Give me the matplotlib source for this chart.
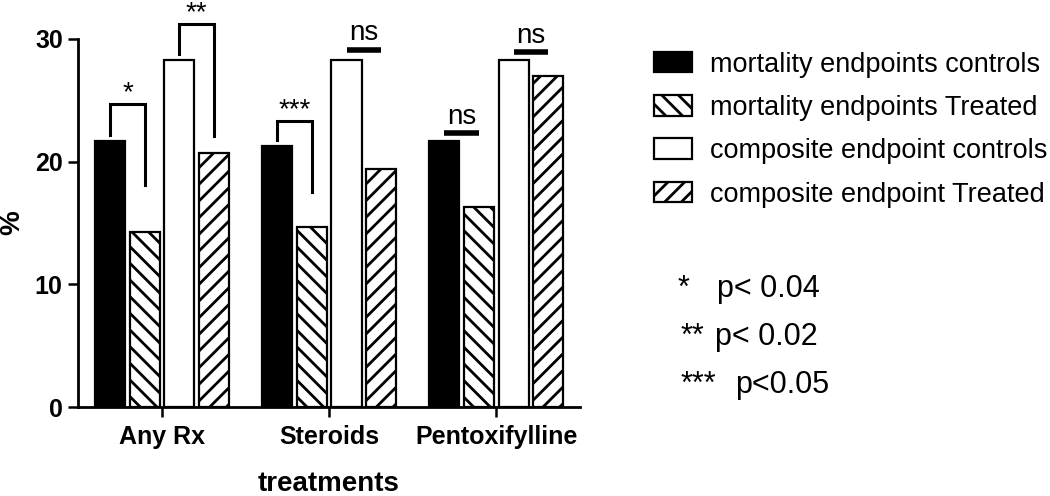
import numpy as np
import matplotlib.pyplot as plt

plt.rcParams['font.family'] = ['Liberation Sans', 'DejaVu Sans']
plt.rcParams['hatch.linewidth'] = 2.0

groups = ["Any Rx", "Steroids", "Pentoxifylline"]
mort_ctrl = [21.7, 21.3, 21.7]
mort_trt = [14.3, 14.7, 16.3]
comp_ctrl = [28.3, 28.3, 28.3]
comp_trt = [20.7, 19.4, 27.0]

series = [mort_ctrl, mort_trt, comp_ctrl, comp_trt]
labels = ["mortality endpoints controls", "mortality endpoints Treated",
          "composite endpoint controls", "composite endpoint Treated"]
colors = ["black", "white", "white", "white"]
hatches = [None, "\\\\", None, "//"]

# brackets: group, left bar, right bar, star label, top, left leg end, right leg end
star_groups = [0, 0, 1]
star_bars = [(0, 1), (2, 3), (0, 1)]
star_text = ["*", "**", "***"]
star_top = [24.7, 31.2, 23.3]
star_left = [22.2, 28.8, 21.8]
star_right = [18.1, 22.1, 17.5]

# "ns" bars: group, left bar, right bar, line level
ns_groups = [1, 2, 2]
ns_bars = [(2, 3), (0, 1), (2, 3)]
ns_level = [29.1, 22.3, 28.9]

p_stars = ["*", "**", "***"]
p_text = ["p< 0.04", "p< 0.02", "p<0.05"]

fig = plt.figure(figsize=(10.5, 4.96), dpi=100)
ax = fig.add_axes([0.0743, 0.1794, 0.478, 0.742])

x = np.arange(len(groups))
pitch = 0.207
width = 0.18
offsets = (np.arange(4) - 1.5) * pitch

for i, vals in enumerate(series):
    ax.bar(x + offsets[i], vals, width, color=colors[i], edgecolor="black",
           linewidth=1.6, hatch=hatches[i], label=labels[i])

for g, (a, b), t, top, ly, ry in zip(star_groups, star_bars, star_text,
                                     star_top, star_left, star_right):
    xa = x[g] + offsets[a]
    xb = x[g] + offsets[b]
    ax.plot([xa, xa, xb, xb], [ly, top, top, ry], color="black", lw=2.2,
            solid_joinstyle="miter", clip_on=False)
    ax.text((xa + xb) / 2, top - 0.15, t, ha="center", va="bottom",
            fontsize=20, clip_on=False)

for g, (a, b), lev in zip(ns_groups, ns_bars, ns_level):
    xa = x[g] + offsets[a]
    xb = x[g] + offsets[b]
    ax.plot([xa, xb], [lev, lev], color="black", lw=4, solid_capstyle="butt",
            clip_on=False)
    ax.text((xa + xb) / 2, lev + 0.3, "ns", ha="center", va="bottom",
            fontsize=20, clip_on=False)

ax.set_xlim(-0.503, 2.5)
ax.set_ylim(0, 30)
ax.set_yticks([0, 10, 20, 30])
ax.set_xticks(x)
ax.set_xticklabels(groups, fontsize=18, fontweight="bold")
ax.tick_params(axis="y", labelsize=18, width=1.8, length=7, pad=4)
for lab in ax.get_yticklabels():
    lab.set_fontweight("bold")
ax.tick_params(axis="x", width=1.8, length=7, pad=6)
for s in ["top", "right"]:
    ax.spines[s].set_visible(False)
for s in ["left", "bottom"]:
    ax.spines[s].set_linewidth(2)

fig.text(0.012, 0.552, "%", rotation=90, fontsize=20, fontweight="bold",
         ha="center", va="center")
ax.set_xlabel("treatments", fontsize=20, fontweight="bold", labelpad=16)

fig.legend(loc="upper left", bbox_to_anchor=(0.613, 0.918), frameon=False,
           fontsize=19.5, handlelength=1.4, handleheight=0.8,
           labelspacing=0.64, handletextpad=0.65, borderaxespad=0)

for k, (s, t) in enumerate(zip(p_stars, p_text)):
    y = 0.418 - k * 0.097
    fig.text(0.645 + 0.003 * (k > 0), y, s, fontsize=22, va="center")
    fig.text([0.683, 0.681, 0.7][k], y, t, fontsize=22, va="center")

fig.savefig("out.png", dpi=100)
